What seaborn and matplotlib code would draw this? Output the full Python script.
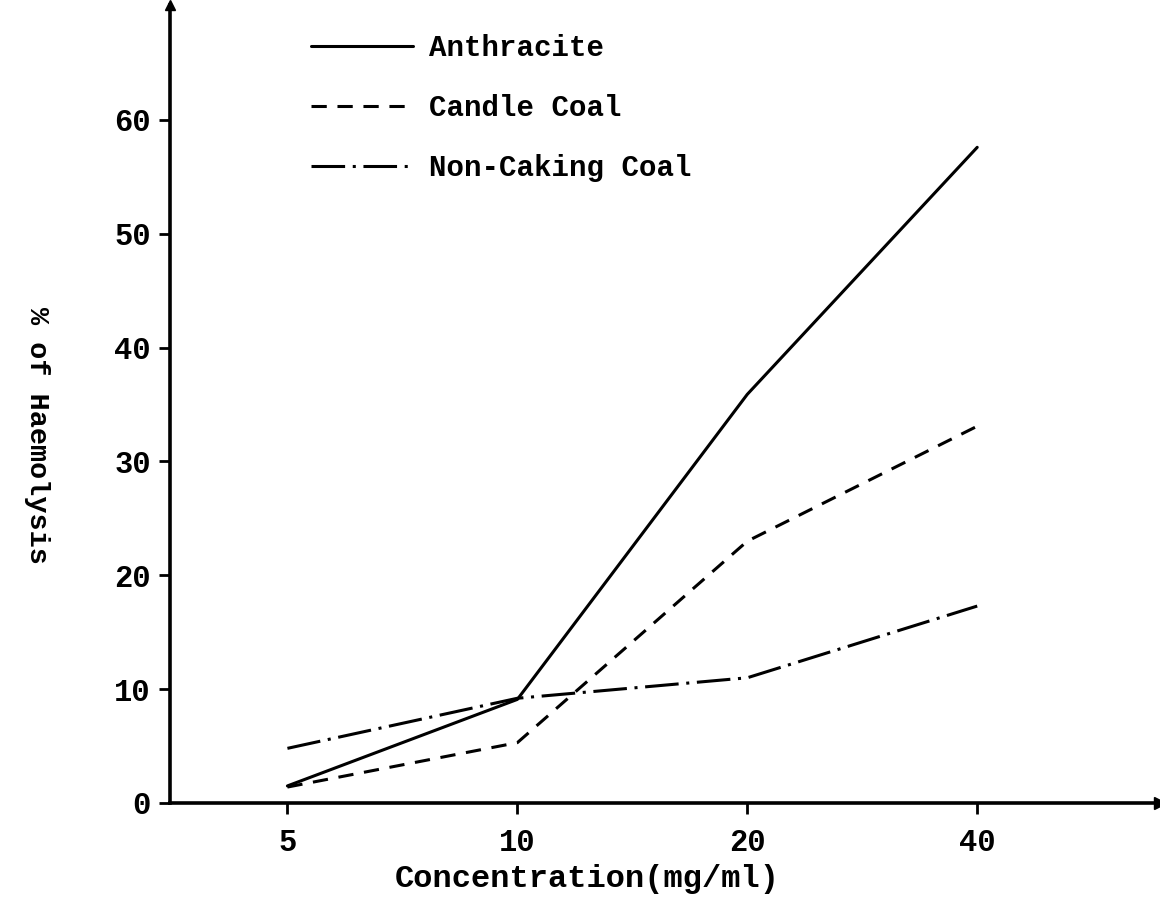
import pandas as pd
import matplotlib
matplotlib.use("Agg")
import matplotlib.pyplot as plt
import seaborn as sns

# values
concentration = [5, 10, 20, 40]
anthracite = [1.5, 9.1, 35.9, 57.6]
candle_coal = [1.4, 5.3, 23.0, 33.1]
non_caking_coal = [4.8, 9.2, 11.0, 17.3]
coal_names = ["Anthracite", "Candle Coal", "Non-Caking Coal"]

df = pd.DataFrame({
    "conc": concentration * 3,
    "pct": anthracite + candle_coal + non_caking_coal,
    "coal": [n for n in coal_names for _ in concentration],
})

sns.set_style("ticks")
plt.rcParams["font.family"] = ["Liberation Mono", "DejaVu Sans Mono"]
plt.rcParams["font.weight"] = "bold"
for key in ["text.color", "axes.labelcolor", "xtick.color", "ytick.color", "axes.edgecolor"]:
    plt.rcParams[key] = "black"

fig = plt.figure(figsize=(11.6, 8.98), dpi=100)
ax = fig.add_axes([0.1466, 0.1058, 0.8534, 0.8886])

dash_styles = {"Anthracite": "", "Candle Coal": (5, 3.5), "Non-Caking Coal": (11, 2.5, 1, 2.5)}
sns.lineplot(data=df, x="conc", y="pct", style="coal", style_order=coal_names,
             dashes=dash_styles, color="black", linewidth=2.2, ax=ax)

ax.set_xscale("log", base=2)
ax.set_xlim(3.51, 69.4)
ax.set_ylim(0, 70.1)
ax.set_xticks(concentration)
ax.set_xticklabels([str(c) for c in concentration])
ax.xaxis.set_minor_locator(matplotlib.ticker.NullLocator())
ax.set_yticks(range(0, 70, 10))
ax.tick_params(axis="both", direction="out", length=8, width=2, labelsize=22, pad=6)
ax.tick_params(axis="x", pad=10)
ax.set_xlabel("")
ax.set_ylabel("")

for side in ["top", "right"]:
    ax.spines[side].set_visible(False)
for side in ["left", "bottom"]:
    ax.spines[side].set_linewidth(2.6)

# arrow heads on the axes
ax.plot([1], [0], marker=">", color="black", markersize=9, transform=ax.transAxes, clip_on=False)
ax.plot([0], [1], marker="^", color="black", markersize=7, transform=ax.transAxes, clip_on=False)

handles, labels = ax.get_legend_handles_labels()
keep = [(h, l) for h, l in zip(handles, labels) if l in coal_names]
for h, _ in keep:
    h.set_linewidth(2.2)
ax.legend([h for h, _ in keep], [l for _, l in keep], loc="upper left",
          bbox_to_anchor=(0.268, 0.962), bbox_transform=fig.transFigure,
          frameon=False, fontsize=21, handlelength=3.5, handletextpad=0.55,
          labelspacing=1.1, borderpad=0, borderaxespad=0)

fig.text(0.506, 0.021, "Concentration(mg/ml)", ha="center", va="center", fontsize=23, fontweight="bold")
fig.text(0.032, 0.515, "% of Haemolysis", ha="center", va="center", rotation=270, fontsize=20.5, fontweight="bold")

fig.savefig("out.png", dpi=100)
